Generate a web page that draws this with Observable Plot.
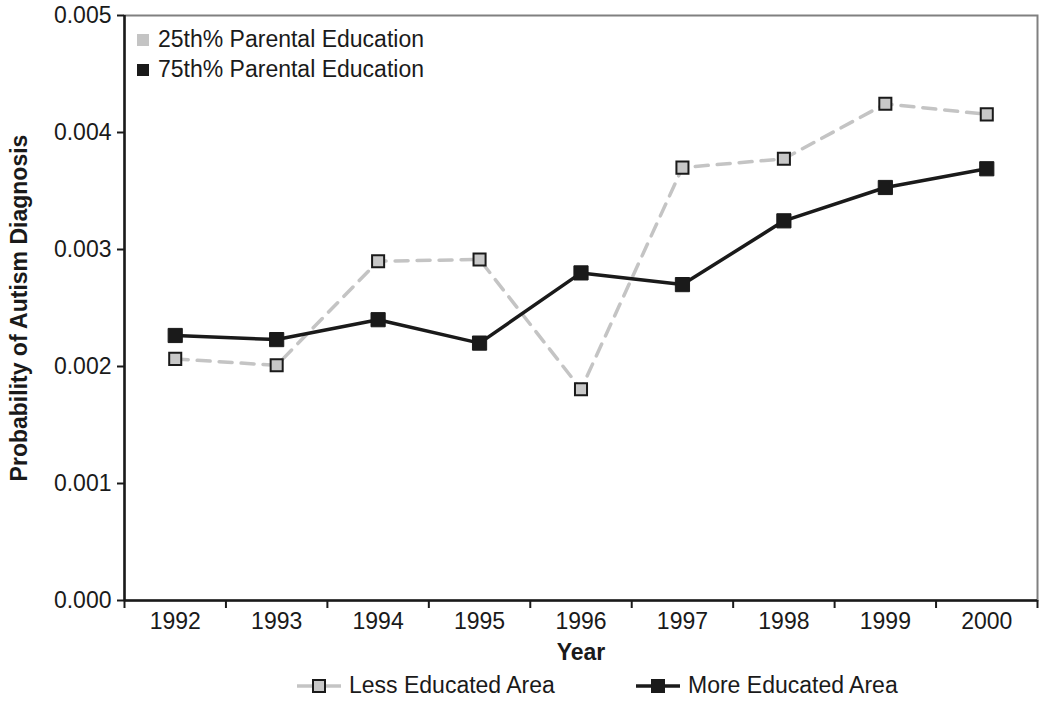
<!DOCTYPE html>
<html><head><meta charset="utf-8">
<script src="https://cdn.jsdelivr.net/npm/d3@7"></script>
<script src="https://cdn.jsdelivr.net/npm/@observablehq/plot@0.6"></script>
<style>
body{margin:0;background:#fff;font-family:"Liberation Sans",Arial,sans-serif;}
#wrap{position:relative;width:1050px;height:703px;}
.leg{position:absolute;font-size:23px;color:#1a1a1a;white-space:nowrap;display:flex;align-items:center;}
.sw{display:inline-block;width:12px;height:12px;margin-right:9px;}
</style></head>
<body><div id="wrap"></div>
<script>
const years = [1992,1993,1994,1995,1996,1997,1998,1999,2000];
const lessEducated = [0.002065,0.002010,0.002900,0.002915,0.001805,0.003700,0.003775,0.004245,0.004155];
const moreEducated = [0.002265,0.002230,0.002400,0.002200,0.002800,0.002700,0.003245,0.003530,0.003690];
const yTicks = [0,0.001,0.002,0.003,0.004,0.005];
const seriesNames = ["Less Educated Area","More Educated Area"];
const topLegend = ["25th% Parental Education","75th% Parental Education"];

const less = years.map((y,i)=>({year:y, v:lessEducated[i]}));
const more = years.map((y,i)=>({year:y, v:moreEducated[i]}));
const bounds = years.map(y=>y-0.5).concat([years[years.length-1]+0.5]);

const chart = Plot.plot({
  width:1050, height:665,
  marginLeft:124, marginRight:13, marginTop:15, marginBottom:65,
  style:{fontSize:"23px", fontFamily:"'Liberation Sans', Arial, sans-serif", color:"#1a1a1a", background:"#fff"},
  x:{type:"linear", domain:[bounds[0], bounds[bounds.length-1]]},
  y:{domain:[0,0.005]},
  marks:[
    Plot.frame({stroke:"#808080", strokeWidth:2}),
    Plot.ruleX([bounds[0]], {stroke:"#1a1a1a", strokeWidth:2.5}),
    Plot.ruleY([0], {stroke:"#1a1a1a", strokeWidth:2.5}),
    Plot.axisY(yTicks, {tickSize:7, tickPadding:6, tickFormat:d3.format(".3f"), label:null, stroke:"#1a1a1a", strokeWidth:2, fill:"#1a1a1a", fontSize:23}),
    Plot.axisX(years, {tickSize:0, tickPadding:12, tickFormat:d=>String(d), label:null, fill:"#1a1a1a", fontSize:23}),
    Plot.axisX(bounds, {tickSize:8, tickFormat:()=>"", label:null, stroke:"#1a1a1a", strokeWidth:2}),
    Plot.text(["Year"], {frameAnchor:"bottom", dy:52, lineAnchor:"middle", fontWeight:"bold", fill:"#1a1a1a", fontSize:23}),
    Plot.text(["Probability of Autism Diagnosis"], {frameAnchor:"left", dx:-105, rotate:-90, textAnchor:"middle", lineAnchor:"middle", fontWeight:"bold", fill:"#1a1a1a", fontSize:23}),
    Plot.lineY(less, {x:"year", y:"v", stroke:"#c4c4c4", strokeWidth:3.5, strokeDasharray:"13,9"}),
    Plot.lineY(more, {x:"year", y:"v", stroke:"#1a1a1a", strokeWidth:3.5}),
    Plot.dot(less, {x:"year", y:"v", symbol:"square", r:6.8, fill:"#c8c8c8", stroke:"#1a1a1a", strokeWidth:2}),
    Plot.dot(more, {x:"year", y:"v", symbol:"square", r:8, fill:"#1a1a1a", stroke:"#1a1a1a", strokeWidth:1})
  ]
});
const wrap = document.getElementById("wrap");
wrap.appendChild(chart);

function addLeg(html, left, top){
  const d=document.createElement("div"); d.className="leg"; d.style.left=left+"px"; d.style.top=top+"px"; d.innerHTML=html; wrap.appendChild(d);
}
addLeg(`<span class="sw" style="background:#c4c4c4"></span>${topLegend[0]}`, 137, 26);
addLeg(`<span class="sw" style="background:#1a1a1a"></span>${topLegend[1]}`, 137, 56);

function lineSwatch(dark){
  const stroke = dark ? "#1a1a1a" : "#c4c4c4";
  const fill = dark ? "#1a1a1a" : "#c8c8c8";
  return `<svg width="44" height="16" style="margin-right:8px"><line x1="0" x2="44" y1="8" y2="8" stroke="${stroke}" stroke-width="3.5"/><rect x="16" y="2" width="12" height="12" fill="${fill}" stroke="#1a1a1a" stroke-width="2"/></svg>`;
}
addLeg(lineSwatch(false)+seriesNames[0], 297, 672);
addLeg(lineSwatch(true)+seriesNames[1], 636, 672);
</script></body></html>
